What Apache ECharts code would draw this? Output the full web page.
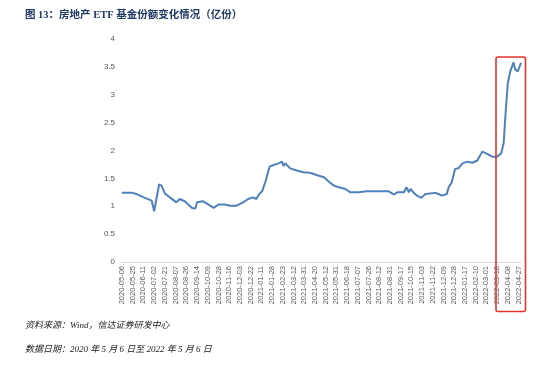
<!DOCTYPE html>
<html>
<head>
<meta charset="utf-8">
<script src="https://cdn.jsdelivr.net/npm/echarts@6/dist/echarts.min.js"></script>
<style>
html,body{margin:0;padding:0;background:#fff;}
#c{width:540px;height:366px;}
</style>
</head>
<body>
<div id="c"></div>
<script>
// Tick labels (every 13th trading day)
const tickLabels = [
  '2020-05-06','2020-05-25','2020-06-11','2020-07-02','2020-07-21','2020-08-07','2020-08-26',
  '2020-09-14','2020-10-09','2020-10-28','2020-11-16','2020-12-03','2020-12-22','2021-01-11',
  '2021-01-28','2021-02-23','2021-03-12','2021-03-31','2021-04-20','2021-05-12','2021-05-31',
  '2021-06-18','2021-07-07','2021-07-26','2021-08-12','2021-08-31','2021-09-17','2021-10-15',
  '2021-11-03','2021-11-22','2021-12-09','2021-12-28','2022-01-17','2022-02-10','2022-03-01',
  '2022-03-18','2022-04-08','2022-04-27'
];
// Trading-day index of each sampled point
const dayIndex = [
  0,13,19,28,36,39,45,48,52,58,66,70,76,85,89,91,98,104,111,117,125,131,139,147,153,159,163,166,
  170,174,179,184,190,194,196,198,204,212,220,228,236,245,251,257,263,271,277,287,297,323,330,334,
  342,345,348,350,354,358,363,368,380,384,388,394,396,400,404,408,413,419,425,431,437,443,449,455,
  460,463,465,468,471,475,477,480,484
];
// ETF shares (亿份)
const shares = [
  1.24,1.24,1.21,1.15,1.10,0.91,1.39,1.37,1.23,1.16,1.07,1.13,1.09,0.97,0.96,1.07,1.09,1.04,0.97,1.03,
  1.03,1.01,1.01,1.07,1.13,1.16,1.13,1.21,1.27,1.44,1.71,1.74,1.77,1.80,1.72,1.77,1.68,1.64,1.61,1.60,
  1.56,1.52,1.44,1.37,1.34,1.31,1.25,1.25,1.27,1.27,1.21,1.25,1.25,1.34,1.25,1.31,1.24,1.19,1.15,1.22,
  1.24,1.22,1.19,1.22,1.33,1.43,1.67,1.68,1.77,1.80,1.78,1.82,1.98,1.94,1.89,1.89,1.95,2.13,2.61,3.21,
  3.42,3.58,3.45,3.42,3.57
];
const yTicks = { min: 0, max: 4, interval: 0.5 };

const chart = echarts.init(document.getElementById('c'), null, { renderer: 'canvas' });
chart.setOption({
  animation: false,
  backgroundColor: '#fff',
  grid: { left: 122, right: 19, top: 39, bottom: 104, containLabel: false },
  xAxis: {
    type: 'value', min: 0, max: 484, interval: 13,
    axisLine: { show: true, lineStyle: { color: '#d9d9d9', width: 1 } },
    axisTick: { show: false },
    splitLine: { show: false },
    axisLabel: {
      rotate: 90, fontSize: 7.5, color: '#595959', margin: 4, fontFamily: 'Liberation Sans, Arial',
      showMaxLabel: false,
      formatter: v => tickLabels[Math.round(v / 13)] || ''
    }
  },
  yAxis: {
    type: 'value', min: yTicks.min, max: yTicks.max, interval: yTicks.interval,
    axisLine: { show: false }, axisTick: { show: false }, splitLine: { show: false },
    axisLabel: { fontSize: 8, color: '#595959', margin: 7, fontFamily: 'Liberation Sans, Arial' }
  },
  series: [{
    type: 'line', showSymbol: false, smooth: false,
    lineStyle: { color: '#4f81bd', width: 2 },
    data: dayIndex.map((d, i) => [d, shares[i]])
  }],
  graphic: [
    { type: 'text', left: 25, top: 10, style: { text: '图 13：房地产 ETF 基金份额变化情况（亿份）', fill: '#1f3864', font: 'bold 10.5px "Liberation Serif", "Noto Sans CJK SC"' } },
    { type: 'text', left: 25, top: 321, style: { text: '资料来源：Wind，信达证券研发中心', fill: '#222', font: 'italic 9px "Liberation Serif", "Noto Sans CJK SC"' } },
    { type: 'text', left: 25, top: 345, style: { text: '数据日期：2020 年 5 月 6 日至 2022 年 5 月 6 日', fill: '#222', font: 'italic 9px "Liberation Serif", "Noto Sans CJK SC"' } },
    { type: 'rect', z: 100, shape: { x: 496, y: 57, width: 29.5, height: 254.5, r: 2 }, style: { fill: 'none', stroke: '#e5322d', lineWidth: 1.6 } }
  ]
});
</script>
</body>
</html>
